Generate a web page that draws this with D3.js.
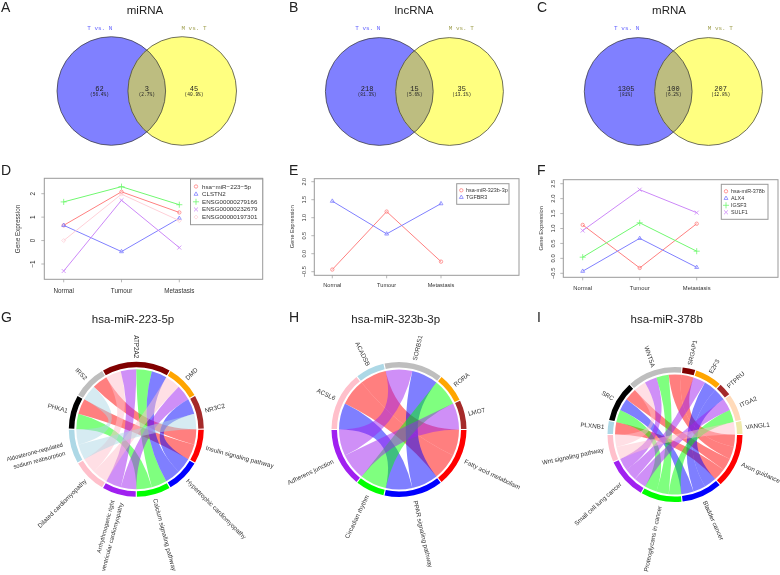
<!DOCTYPE html>
<html><head><meta charset="utf-8">
<script src="https://cdn.jsdelivr.net/npm/d3@7"></script>
<style>html,body{margin:0;padding:0;background:#fff}svg{display:block;filter:blur(0.3px)}</style>
</head><body><svg id="c" width="780" height="575"></svg>
<script>
// ---- Venn data ----
const vennA = ["62","3","45"], vennApct = ["(56.4%)","(2.7%)","(40.9%)"];
const vennB = ["218","15","35"], vennBpct = ["(81.3%)","(5.6%)","(13.1%)"];
const vennC = ["1305","100","207"], vennCpct = ["(81%)","(6.2%)","(12.8%)"];
// ---- Line panels data ----
const stages = ["Normal","Tumour","Metastasis"];
const seriesD = ["hsa\u2212miR\u2212223\u22125p","CLSTN2","ENSG00000279166","ENSG00000232679","ENSG00000197301"];
const d1=[0.65,2.08,1.2], d2=[0.65,-0.47,0.95], d3v=[1.65,2.3,1.53], d4=[-1.3,1.72,-0.3], d5=[0,1.98,0.85];
const seriesE = ["hsa-miR-323b-3p","TGFBR3"];
const e1=[-0.44,1.17,-0.22], e2=[1.46,0.55,1.39];
const seriesF = ["hsa-miR-378b","ALX4","IGSF3","SULF1"];
const f1=[1.12,-0.32,1.16], f2=[-0.43,0.67,-0.3], f3=[0.04,1.19,0.24], f4=[0.93,2.3,1.53];
const ticksD=[-1,0,1,2], ticksE=[-0.5,0,0.5,1,1.5,2], ticksF=[-0.5,0,0.5,1,1.5,2,2.5];
// ---- Chord data ----
const termsG=["Insulin signaling pathway","Hypertrophic cardiomyopathy","Calcium signaling pathway","Arrhythmogenic right\nventricular cardiomyopathy","Dilated cardiomyopathy","Aldosterone-regulated\nsodium reabsorption"];
const genesG=["PHKA1","IRS2","ATP2A2","DMD","NR3C2"];
const linksG=[[0,2],[0,0],[1,5],[1,0],[2,4],[2,3],[2,2],[2,1],[3,4],[3,3],[4,1],[4,5]];
const termsH=["Fatty acid metabolism","PPAR signaling pathway","Circadian rhythm","Adherens junction"];
const genesH=["ACSL6","ACADSB","SORBS1","RORA","LMO7"];
const linksH=[[0,1],[0,0],[1,0],[2,3],[2,1],[3,2],[4,3]];
const termsI=["Axon guidance","Bladder cancer","Proteoglycans in cancer","Small cell lung cancer","Wnt signaling pathway"];
const genesI=["PLXNB1","SRC","WNT5A","SRGAP1","E2F3","PTPRU","ITGA2","VANGL1"];
const linksI=[[0,0],[1,2],[1,1],[1,0],[2,4],[2,3],[2,2],[2,0],[3,0],[4,3],[4,1],[5,1],[6,3],[6,2],[7,4]];
const termColors=["#ff0000","#0000ff","#00ff00","#a020f0","#ffc0cb","#add8e6"];
const geneColG=["#000000","#bebebe","#800000","#ffa500","#a52a2a"];
const geneColH=["#ffc0cb","#add8e6","#bebebe","#ffa500","#a52a2a"];
const geneColI=["#add8e6","#000000","#bebebe","#800000","#ffa500","#a52a2a","#ffdab9","#eee8aa"];
const termColI=["#ff0000","#0000ff","#00ff00","#a020f0","#ffc0cb"];
const termColH=["#ff0000","#0000ff","#00ff00","#a020f0"];

const svg=d3.select("#c");
const SANS="'Liberation Sans',Arial,sans-serif", MONO="'Liberation Mono',monospace";
const txt=(x,y,s,size,opt={})=>svg.append("text").attr("x",x).attr("y",y).text(s)
  .attr("font-family",opt.font||SANS).attr("font-size",size).attr("fill",opt.fill||"#222")
  .attr("text-anchor",opt.anchor||"middle");

// panel letters
[["A",1,12],["B",289,12],["C",537,12],["D",1,175],["E",289,175],["F",537,175],["G",1,322],["H",289,322],["I",537,322]]
 .forEach(p=>txt(p[1],p[2],p[0],14,{anchor:"start"}));
// titles
[["miRNA",145,14],["lncRNA",414,14],["mRNA",669,14],["hsa-miR-223-5p",133,323],["hsa-miR-323b-3p",395.7,323],["hsa-miR-378b",666.7,323]]
 .forEach(p=>txt(p[1],p[2],p[0],11.5));

let clipId=0;
function venn(c1,c2,cy,r,counts,pcts){
  const id="v"+(clipId++);
  svg.append("clipPath").attr("id",id).append("circle").attr("cx",c1).attr("cy",cy).attr("r",r);
  svg.append("circle").attr("cx",c1).attr("cy",cy).attr("r",r).attr("fill","#8080ff");
  svg.append("circle").attr("cx",c2).attr("cy",cy).attr("r",r).attr("fill","#ffff80");
  svg.append("circle").attr("cx",c2).attr("cy",cy).attr("r",r).attr("fill","#bdbd80").attr("clip-path",`url(#${id})`);
  [c1,c2].forEach(c=>svg.append("circle").attr("cx",c).attr("cy",cy).attr("r",r).attr("fill","none").attr("stroke","#333").attr("stroke-width",0.7));
  const mid=(c1+c2)/2, xs=[mid-47.3,mid,mid+47.3];
  xs.forEach((x,i)=>{
    txt(x,90.5,counts[i],7,{font:MONO});
    txt(x,95.8,pcts[i],4.5,{font:MONO});
  });
  txt(c1-11.5,29.8,"T vs. N",6,{font:MONO,fill:"#6060ff"});
  txt(c2+11.8,29.8,"M vs. T",6,{font:MONO,fill:"#a0a050"});
}
venn(111.3,182.2,91,54.3,vennA,vennApct);
venn(379.3,449.5,91.5,53.9,vennB,vennBpct);
venn(638.2,708.5,91.5,53.9,vennC,vennCpct);

const lineCols=["#ff8080","#8080ff","#70f870","#cc88f8","#ffd0d8"];
const marks=[d3.symbolCircle,d3.symbolTriangle2,d3.symbolPlus,d3.symbolTimes,d3.symbolDiamond2];
const markSize=[9,11,14,12,10];
function mark(g,x,y,i){
  g.append("path").attr("d",d3.symbol().type(marks[i]).size(markSize[i])()).attr("transform",`translate(${x},${y})`)
   .attr("fill","none").attr("stroke",lineCols[i]).attr("stroke-width",0.8);
}
function linePanel(o){
  const g=svg.append("g");
  const x=d3.scalePoint().domain(stages).range(o.xr);
  const y=d3.scaleLinear().domain(o.yd).range(o.yr);
  g.append("rect").attr("x",o.box[0]).attr("y",o.box[1]).attr("width",o.box[2]-o.box[0]).attr("height",o.box[3]-o.box[1])
   .attr("fill","none").attr("stroke","#999").attr("stroke-width",1);
  stages.forEach(s=>{
    g.append("line").attr("x1",x(s)).attr("x2",x(s)).attr("y1",o.box[3]).attr("y2",o.box[3]+3).attr("stroke","#999").attr("stroke-width",0.7);
    txt(x(s),o.xl,s,o.fs,{fill:"#333"});
  });
  o.ticks.forEach(t=>{
    g.append("line").attr("x1",o.box[0]-3).attr("x2",o.box[0]).attr("y1",y(t)).attr("y2",y(t)).attr("stroke","#999").attr("stroke-width",0.7);
    txt(0,0,o.fmt(t),o.fs,{fill:"#333"}).attr("x",null).attr("y",null).attr("transform",`translate(${o.tx},${y(t)}) rotate(-90)`);
  });
  txt(0,0,"Gene Expression",o.fs,{fill:"#333"}).attr("x",null).attr("y",null).attr("transform",`translate(${o.ylab[0]},${o.ylab[1]}) rotate(-90)`);
  const ln=d3.line().x((d,i)=>x(stages[i])).y(d=>y(d));
  o.series.forEach((s,i)=>{
    g.append("path").attr("d",ln(s)).attr("fill","none").attr("stroke",lineCols[i]).attr("stroke-width",1);
    s.forEach((v,j)=>mark(g,x(stages[j]),y(v),i));
  });
  const L=o.leg;
  g.append("rect").attr("x",L.x0).attr("y",L.y0).attr("width",L.x1-L.x0).attr("height",L.y1-L.y0).attr("fill","#fff").attr("stroke","#999").attr("stroke-width",1);
  o.names.forEach((n,i)=>{
    const yy=L.ry+i*L.dy;
    mark(g,L.mx,yy,i);
    txt(L.tx,yy+2,n,L.fs,{anchor:"start",fill:"#333"});
  });
}
linePanel({xr:[63.7,179.3],yd:[-1,2],yr:[264,193.7],box:[44.3,178.3,262.7,279.3],ticks:ticksD,fmt:d=>d<0?"\u2212"+(-d):""+d,tx:35,ylab:[20,229],xl:293,fs:6.3,
  series:[d1,d2,d3v,d4,d5],names:seriesD,leg:{x0:190.5,x1:262.7,y0:179,y1:224.7,ry:186.5,dy:7.65,mx:196,tx:202,fs:6.2}});
linePanel({xr:[332.3,441],yd:[-0.5,2],yr:[271.7,181.7],box:[314.3,178.7,519,275.3],ticks:ticksE,fmt:d3.format(".1f"),tx:306,ylab:[294,226.7],xl:287,fs:5.6,
  series:[e1,e2],names:seriesE,leg:{x0:456.7,x1:509,y0:183.7,y1:204.3,ry:190.3,dy:7,mx:461.3,tx:466,fs:5.4}});
linePanel({xr:[582.7,696.7],yd:[-0.5,2.5],yr:[273.3,183.7],box:[563.3,179.7,778,277.3],ticks:ticksF,fmt:d3.format(".1f"),tx:555,ylab:[543,228.3],xl:289.5,fs:5.8,
  series:[f1,f2,f3,f4],names:seriesF,leg:{x0:721.3,x1:768,y0:184.3,y1:219.3,ry:191.3,dy:7,mx:726,tx:731,fs:5.4}});

function chord(o){
  const g=svg.append("g").attr("transform",`translate(${o.cx},${o.cy})`);
  const toRad=d=>(d+90)*Math.PI/180;
  const unit=180/o.links.length;
  const tCount=o.terms.map((_,i)=>o.links.filter(l=>l[1]===i).length);
  const gCount=o.genes.map((_,i)=>o.links.filter(l=>l[0]===i).length);
  const tStart=[],gStart=[];
  tCount.reduce((a,c,i)=>(tStart[i]=a,a+c*unit),0);
  gCount.reduce((a,c,i)=>(gStart[i]=a,a+c*unit),180);
  const used=o.terms.map(()=>0), gUsed=o.genes.map(()=>0);
  const ribbon=d3.ribbon().radius(o.r);
  // walk links from last gene to first so that ribbons inside a term never cross
  const segs=o.links.map(l=>{const a=gStart[l[0]]+gUsed[l[0]]*unit;gUsed[l[0]]++;return {l,a};});
  const rows=[];
  for(let k=segs.length-1;k>=0;k--){
    const s=segs[k], t=s.l[1], b=tStart[t]+used[t]*unit; used[t]++;
    rows.push({gene:s.a,term:b,col:o.tCols[t]});
  }
  rows.reverse().forEach(d=>{
    g.append("path").attr("d",ribbon({source:{startAngle:toRad(d.gene),endAngle:toRad(d.gene+unit)},target:{startAngle:toRad(d.term),endAngle:toRad(d.term+unit)}}))
     .attr("fill",d.col).attr("fill-opacity",0.5);
  });
  const arc=d3.arc().innerRadius(o.r+2).outerRadius(o.r+7.5);
  const sector=(start,n,col,name,R)=>{
    const pad=0.5;
    g.append("path").attr("d",arc({startAngle:toRad(start+pad),endAngle:toRad(start+n*unit-pad)})).attr("fill",col);
    const mid=start+n*unit/2, left=mid>90&&mid<=270;
    const two=name.includes("\n");
    const t=g.append("text").attr("font-family",SANS).attr("font-size",two?5.9:6.3).attr("fill","#333")
      .attr("text-anchor",left?"end":"start")
      .attr("transform",`rotate(${mid}) translate(${two?R+3:R},0)`+(left?" rotate(180)":""));
    const lines=name.split("\n");
    lines.forEach((s,i)=>t.append("tspan").attr("x",0).attr("y",(i-(lines.length-1)/2)*9+2.1).text(s));
  };
  o.terms.forEach((n,i)=>sector(tStart[i],tCount[i],o.tCols[i],n,o.rT));
  o.genes.forEach((n,i)=>sector(gStart[i],gCount[i],o.gCols[i],n,o.rG));
}
chord({cx:136.3,cy:429.2,r:60,terms:termsG,genes:genesG,links:linksG,tCols:termColors,gCols:geneColG,rT:72,rG:71});
chord({cx:399,cy:429.5,r:60,terms:termsH,genes:genesH,links:linksH,tCols:termColH,gCols:geneColH,rT:73,rG:71});
chord({cx:675,cy:434.5,r:60,terms:termsI,genes:genesI,links:linksI,tCols:termColI,gCols:geneColI,rT:73,rG:71});
</script></body></html>
